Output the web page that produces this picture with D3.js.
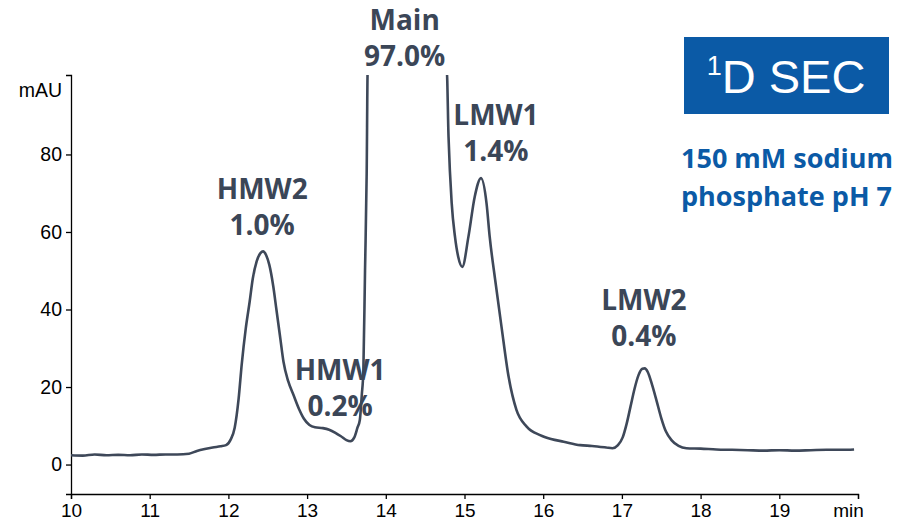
<!DOCTYPE html>
<html>
<head>
<meta charset="utf-8">
<script src="https://cdn.jsdelivr.net/npm/d3@7"></script>
<style>
  html, body { margin: 0; padding: 0; background: #fff; }
  svg { display: block; }
</style>
</head>
<body>
<svg id="chart" width="900" height="521"></svg>
<script>
// Retention time (min) and UV absorbance (mAU) of the SEC trace
const timeMin = [
  10.00, 10.15, 10.30, 10.45, 10.60, 10.75, 10.90, 11.05, 11.20, 11.35,
  11.50, 11.60, 11.70, 11.80, 11.90, 11.97, 12.03, 12.08, 12.13, 12.17,
  12.22, 12.27, 12.31, 12.36, 12.41, 12.44, 12.48, 12.52, 12.57, 12.61,
  12.66, 12.70, 12.76, 12.83, 12.90, 12.96, 13.03, 13.10, 13.20, 13.28,
  13.36, 13.43, 13.50, 13.55, 13.60, 13.64, 13.67, 13.695, 13.715, 13.736,
  13.757, 13.770, 14.774, 14.797, 14.837, 14.879, 14.92, 14.972, 15.05, 15.13,
  15.21, 15.28, 15.32, 15.39, 15.47, 15.56, 15.66, 15.79, 15.96, 16.10,
  16.26, 16.47, 16.62, 16.80, 16.88, 16.95, 17.01, 17.06, 17.11, 17.16,
  17.21, 17.26, 17.29, 17.33, 17.38, 17.44, 17.50, 17.56, 17.63, 17.72,
  17.82, 18.00, 18.20, 18.40, 18.60, 18.80, 19.00, 19.20, 19.40, 19.60,
  19.80, 19.95
];
const absorbance = [
  2.4, 2.3, 2.6, 2.4, 2.5, 2.4, 2.6, 2.5, 2.6, 2.6,
  2.8, 3.5, 4.0, 4.4, 4.7, 5.0, 6.5, 9.5, 17, 26,
  35, 42, 48, 52.5, 54.6, 55.0, 54, 51.5, 46, 40,
  32.5, 26.5, 21.5, 17.8, 14.2, 11.8, 10.2, 9.6, 9.4, 9.0,
  8.2, 7.3, 6.3, 6.0, 7.0, 9.5, 11.5, 18, 24.4, 50,
  75, 102, 102, 84.6, 67.5, 58.8, 53.6, 51.0, 58.8, 69.1,
  73.9, 67.4, 58.8, 47.6, 35.6, 22.7, 14.1, 9.8, 7.6, 6.6,
  5.9, 5.0, 4.8, 4.4, 4.2, 5.0, 7.0, 10.5, 15, 19.5,
  23, 24.7, 24.8, 23.8, 20.8, 16.5, 12.0, 8.5, 6.3, 4.8,
  4.2, 4.1, 3.9, 3.8, 3.7, 3.6, 3.7, 3.6, 3.7, 3.8,
  3.8, 3.9
];

// Axis ticks
const xTicks = [10, 11, 12, 13, 14, 15, 16, 17, 18, 19, 20];
const xTickLabels = ["10", "11", "12", "13", "14", "15", "16", "17", "18", "19", "min"];
const yTicks = [0, 20, 40, 60, 80];

// Peak annotations: name, area percentage, label anchor (time, mAU)
const peakNames = ["Main", "HMW2", "HMW1", "LMW1", "LMW2"];
const peakAreas = ["97.0%", "1.0%", "0.2%", "1.4%", "0.4%"];
const peakLabelTime = [14.24, 12.43, 13.42, 15.40, 17.28];
const peakLabelMau = [112.2, 68.6, 21.8, 87.7, 39.8];

const svg = d3.select("#chart");
const lineColor = "#3e4859";
const labelColor = "#3b4657";
const blue = "#0b5aa6";

const x = d3.scaleLinear().domain([10, 20]).range([71, 858]);
const y = d3.scaleLinear().domain([-7.6, 100.5]).range([494, 75]);

// Clip the trace to the plot area (the main peak runs off scale)
svg.append("defs").append("clipPath").attr("id", "plot-clip")
  .append("rect")
  .attr("x", x(10)).attr("y", y(100.5))
  .attr("width", x(20) - x(10) + 2)
  .attr("height", y(-7.6) - y(100.5));

const axisFont = "'Liberation Sans', Arial, sans-serif";

// Y axis
const yAxis = d3.axisLeft(y).tickValues(yTicks).tickSize(5).tickPadding(4)
  .tickFormat(d3.format("d"));
const gy = svg.append("g").attr("transform", `translate(${x(10)},0)`).call(yAxis);
gy.select(".domain").attr("stroke", "#000").attr("stroke-width", 1.3);
gy.selectAll(".tick line").attr("stroke", "#000").attr("stroke-width", 1.3);
gy.selectAll(".tick text")
  .attr("font-family", axisFont)
  .attr("font-size", 19.5).attr("fill", "#000");

svg.append("text")
  .attr("x", 62).attr("y", 97)
  .attr("text-anchor", "end")
  .attr("font-family", axisFont)
  .attr("font-size", 19.5).attr("fill", "#000")
  .text("mAU");

// X axis; the last tick carries the unit, set slightly inward
const xAxis = d3.axisBottom(x).tickValues(xTicks).tickSize(5).tickPadding(5)
  .tickFormat((d, i) => xTickLabels[i]);
const gx = svg.append("g").attr("transform", `translate(0,${y(-7.6)})`).call(xAxis);
gx.select(".domain").attr("stroke", "#000").attr("stroke-width", 1.3);
gx.selectAll(".tick line").attr("stroke", "#000").attr("stroke-width", 1.3);
gx.selectAll(".tick text")
  .attr("font-family", axisFont)
  .attr("font-size", 19).attr("fill", "#000")
  .attr("dx", (d, i) => i === xTicks.length - 1 ? -10 : 0);

// Chromatogram trace
const points = timeMin.map((t, i) => [t, absorbance[i]]);
const line = d3.line()
  .x(d => x(d[0]))
  .y(d => y(d[1]))
  .curve(d3.curveMonotoneX);

svg.append("path")
  .datum(points)
  .attr("clip-path", "url(#plot-clip)")
  .attr("fill", "none")
  .attr("stroke", lineColor)
  .attr("stroke-width", 2.6)
  .attr("stroke-linejoin", "round")
  .attr("d", line);

// Peak labels
const labels = svg.append("g")
  .attr("font-family", "'Open Sans', sans-serif")
  .attr("font-weight", 700)
  .attr("font-size", 28)
  .attr("fill", labelColor)
  .attr("text-anchor", "middle");

peakNames.forEach((name, i) => {
  const t = labels.append("text")
    .attr("x", x(peakLabelTime[i]))
    .attr("y", y(peakLabelMau[i]));
  t.append("tspan").attr("x", x(peakLabelTime[i])).text(name);
  t.append("tspan").attr("x", x(peakLabelTime[i])).attr("dy", 36).text(peakAreas[i]);
});

// Method badge
svg.append("rect")
  .attr("x", 684).attr("y", 37)
  .attr("width", 205).attr("height", 77)
  .attr("fill", blue);

const badge = svg.append("text")
  .attr("x", 786).attr("y", 93)
  .attr("text-anchor", "middle")
  .attr("font-family", axisFont)
  .attr("font-size", 47)
  .attr("fill", "#fff");
badge.append("tspan").attr("font-size", 27).attr("dy", -18).text("1");
badge.append("tspan").attr("dy", 18).text("D SEC");

const method = svg.append("g")
  .attr("font-family", "'Open Sans', sans-serif")
  .attr("font-weight", 700)
  .attr("font-size", 27)
  .attr("fill", blue);
method.append("text").attr("x", 681).attr("y", 168).text("150 mM sodium");
method.append("text").attr("x", 681).attr("y", 206).text("phosphate pH 7");
</script>
</body>
</html>
